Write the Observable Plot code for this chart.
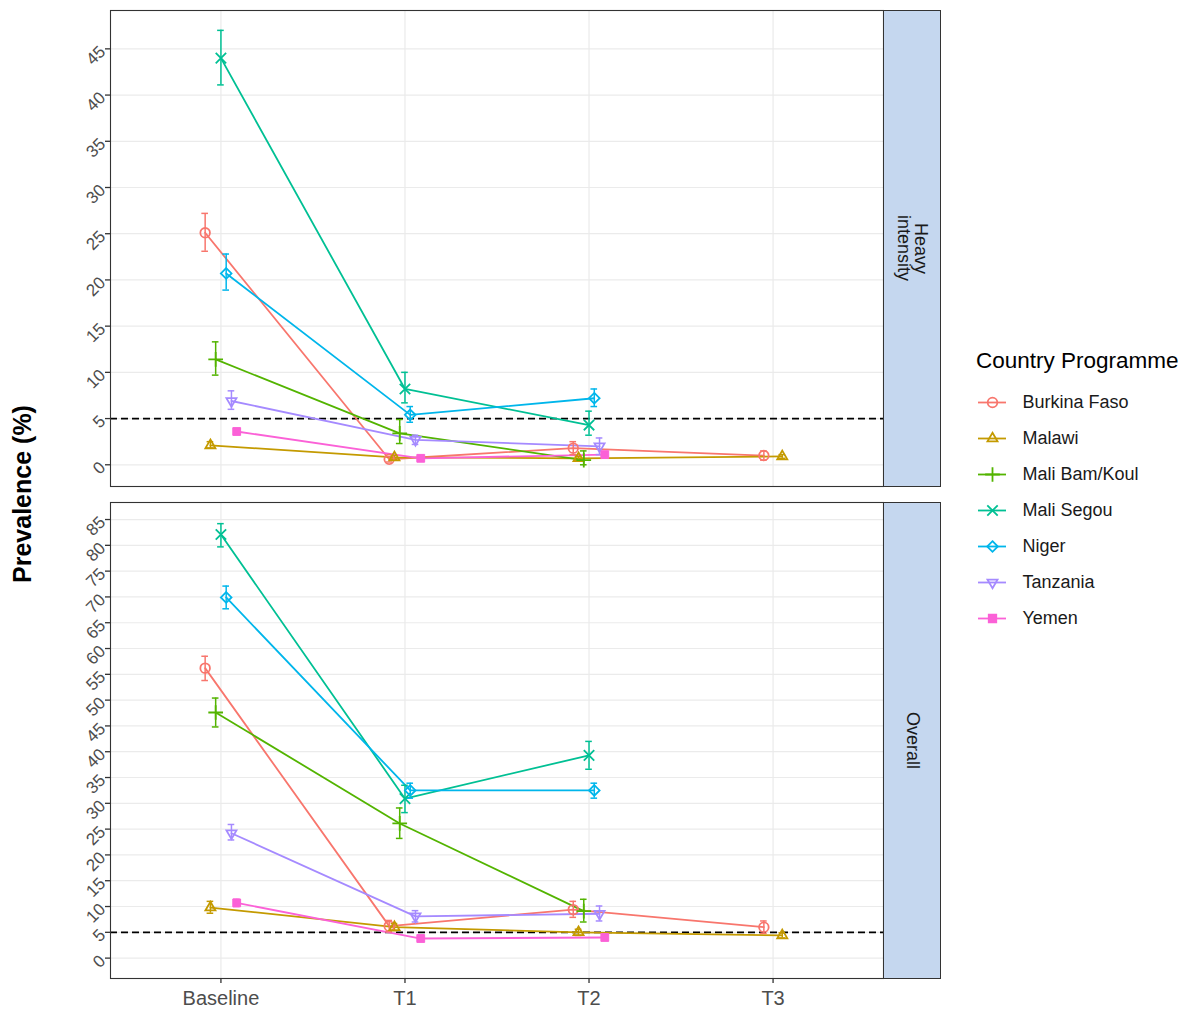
<!DOCTYPE html>
<html>
<head>
<meta charset="utf-8">
<script src="https://cdn.jsdelivr.net/npm/d3@7"></script>
<script src="https://cdn.jsdelivr.net/npm/@observablehq/plot@0.6"></script>
<style>
  body { margin: 0; background: #fff; font-family: "Liberation Sans", Arial, sans-serif; }
  #wrap { position: relative; width: 1191px; height: 1012px; overflow: hidden; background: #fff; }
  .strip { position: absolute; background: #C5D7EF; border: 1px solid #333333; box-sizing: border-box;
           display: flex; align-items: center; justify-content: center; }
  .strip span { writing-mode: vertical-rl; font-size: 18px; color: #1A1A1A; text-align: center; line-height: 17px; }
</style>
</head>
<body>
<div id="wrap"></div>
<script>
// ---------------- data ----------------
const countries = ["Burkina Faso", "Malawi", "Mali Bam/Koul", "Mali Segou", "Niger", "Tanzania", "Yemen"];
const colors = ["#F8766D", "#C49A00", "#53B400", "#00C094", "#00B6EB", "#A58AFF", "#FB61D7"];
const timepoints = ["Baseline", "T1", "T2", "T3"];
const panels = ["Heavy\nintensity", "Overall"];

// Heavy intensity prevalence (%), rows = countries, columns = timepoints
const heavyEst = [
  [25.1, 0.6, 1.8, 1.0],
  [2.1, 0.8, 0.7, 0.9],
  [11.4, 3.4, 0.5, null],
  [44.0, 8.2, 4.3, null],
  [20.7, 5.4, 7.2, null],
  [6.9, 2.7, 2.0, null],
  [3.6, 0.7, 1.1, null]
];
const heavyLow = [
  [23.1, 0.3, 1.1, 0.5],
  [1.8, 0.6, 0.5, 0.7],
  [9.7, 2.3, 0.0, null],
  [41.1, 6.7, 3.2, null],
  [18.9, 4.6, 6.3, null],
  [6.0, 2.2, 1.1, null],
  [3.3, 0.5, 0.8, null]
];
const heavyHigh = [
  [27.2, 0.9, 2.5, 1.5],
  [2.5, 1.0, 0.9, 1.1],
  [13.3, 4.9, 1.5, null],
  [47.0, 10.0, 5.8, null],
  [22.8, 6.3, 8.2, null],
  [8.0, 3.2, 2.9, null],
  [3.9, 0.9, 1.4, null]
];

// Overall prevalence (%)
const overallEst = [
  [56.2, 6.2, 9.4, 6.0],
  [9.8, 6.0, 5.0, 4.4],
  [47.6, 26.1, 9.1, null],
  [82.1, 30.9, 39.3, null],
  [69.9, 32.5, 32.5, null],
  [24.2, 8.1, 8.6, null],
  [10.7, 3.8, 4.0, null]
];
const overallLow = [
  [53.8, 5.1, 7.9, 4.8],
  [8.7, 5.3, 4.4, 3.9],
  [44.8, 23.2, 7.0, null],
  [79.7, 28.2, 36.6, null],
  [67.7, 31.0, 31.0, null],
  [22.9, 7.0, 7.2, null],
  [10.0, 3.4, 3.6, null]
];
const overallHigh = [
  [58.5, 7.3, 11.0, 7.2],
  [11.0, 6.7, 5.6, 4.9],
  [50.4, 29.1, 11.4, null],
  [84.2, 33.5, 42.0, null],
  [72.1, 33.9, 33.9, null],
  [25.9, 9.2, 10.1, null],
  [11.4, 4.2, 4.4, null]
];

const heavyTicks = [0, 5, 10, 15, 20, 25, 30, 35, 40, 45];
const overallTicks = [0, 5, 10, 15, 20, 25, 30, 35, 40, 45, 50, 55, 60, 65, 70, 75, 80, 85];
const threshold = [5];

(function () {
// ---------------- helpers ----------------
const FONT = '"Liberation Sans", Arial, sans-serif';
const dodge = 0.2;
const capHalf = 0.018;

function rows(est, low, high) {
  const out = [];
  timepoints.forEach((t, j) => {
    const present = countries.map((c, i) => i).filter(i => est[i][j] != null);
    const n = present.length;
    present.forEach((i, k) => {
      out.push({country: countries[i], time: t, xi: j,
        x: j - dodge / 2 + (k + 0.5) * dodge / n,
        y: est[i][j], lo: low[i][j], hi: high[i][j]});
    });
  });
  out.sort((a, b) => countries.indexOf(a.country) - countries.indexOf(b.country) || a.xi - b.xi);
  return out;
}

const triangleDown = {
  draw(context, size) {
    const s = Math.sqrt(size) * 0.6824;
    const t = s / 2;
    const u = (s * Math.sqrt(3)) / 2;
    context.moveTo(0, s);
    context.lineTo(u, -t);
    context.lineTo(-u, -t);
    context.closePath();
  }
};
const symbolRange = ["circle", "triangle2", "plus", "times", "diamond2", triangleDown, "square"];

function panel(data, ticks, domain, opts) {
  const open = data.filter(d => d.country !== "Yemen");
  const filled = data.filter(d => d.country === "Yemen");
  const marks = [
    Plot.gridY(ticks, {stroke: "#EBEBEB", strokeOpacity: 1, strokeWidth: 1.2}),
    Plot.gridX([0, 1, 2, 3], {stroke: "#EBEBEB", strokeOpacity: 1, strokeWidth: 1.2}),
    Plot.ruleY(threshold, {stroke: "black", strokeWidth: 1.8, strokeDasharray: "7,4"}),
    Plot.line(data, {x: "x", y: "y", z: "country", stroke: "country", strokeWidth: 1.8}),
    Plot.ruleX(data, {x: "x", y1: "lo", y2: "hi", stroke: "country", strokeWidth: 1.5}),
    Plot.ruleY(data, {y: "lo", x1: d => d.x - capHalf, x2: d => d.x + capHalf, stroke: "country", strokeWidth: 1.5}),
    Plot.ruleY(data, {y: "hi", x1: d => d.x - capHalf, x2: d => d.x + capHalf, stroke: "country", strokeWidth: 1.5}),
    Plot.dot(open, {x: "x", y: "y", symbol: "country", stroke: "country", fill: "none", r: 4.8, strokeWidth: 1.8}),
    Plot.dot(filled, {x: "x", y: "y", symbol: "country", fill: "country", stroke: "country", r: 4.4, strokeWidth: 1}),
    Plot.frame({stroke: "#333333", strokeWidth: 1.1}),
    Plot.axisY(ticks, {tickRotate: -45, tickSize: 5, tickPadding: 3, fontSize: 17, fill: "#4D4D4D", stroke: "#333333", strokeWidth: 1.3, label: null})
  ];
  if (opts.xAxis) {
    marks.push(Plot.axisX([0, 1, 2, 3], {tickFormat: i => timepoints[i], tickSize: 5, tickPadding: 7, fontSize: 20, fill: "#4D4D4D", stroke: "#333333", strokeWidth: 1.3, label: null}));
  }
  return Plot.plot({
    width: 945,
    height: opts.height,
    marginLeft: 110,
    marginRight: 62,
    marginTop: 10,
    marginBottom: opts.marginBottom,
    style: {fontFamily: FONT, background: "transparent", overflow: "visible"},
    x: {domain: [-0.6, 3.6], axis: null},
    y: {domain: domain, axis: null},
    color: {domain: countries, range: colors},
    symbol: {domain: countries, range: symbolRange},
    marks
  });
}

const wrap = document.getElementById("wrap");

const topChart = panel(rows(heavyEst, heavyLow, heavyHigh), heavyTicks, [-2.35, 49.15], {height: 496, marginBottom: 10});
topChart.style.position = "absolute"; topChart.style.left = "0px"; topChart.style.top = "0px";
wrap.appendChild(topChart);

const bottomChart = panel(rows(overallEst, overallLow, overallHigh), overallTicks, [-3.95, 88.3], {height: 520, marginBottom: 34, xAxis: true});
bottomChart.style.position = "absolute"; bottomChart.style.left = "0px"; bottomChart.style.top = "492px";
wrap.appendChild(bottomChart);

// facet strips
[[10, panels[0]], [502, panels[1]]].forEach(([y, label]) => {
  const s = document.createElement("div");
  s.className = "strip";
  s.style.left = "883px"; s.style.top = y + "px"; s.style.width = "58px"; s.style.height = "477px";
  const sp = document.createElement("span");
  sp.innerHTML = label.replace("\n", "<br>");
  s.appendChild(sp);
  wrap.appendChild(s);
});

// y title
const yt = document.createElement("div");
yt.textContent = "Prevalence (%)";
yt.style.cssText = "position:absolute;left:22px;top:494px;transform:translate(-50%,-50%) rotate(-90deg);font-weight:bold;font-size:25px;color:#000;white-space:nowrap;";
wrap.appendChild(yt);

// legend title
const lt = document.createElement("div");
lt.textContent = "Country Programme";
lt.style.cssText = "position:absolute;left:976px;top:348px;font-size:22.5px;color:#000;white-space:nowrap;";
wrap.appendChild(lt);

// legend keys
const legendData = countries.map(c => ({country: c}));
const legend = Plot.plot({
  width: 215,
  height: 252,
  marginTop: 0, marginBottom: 0, marginLeft: 0, marginRight: 0,
  style: {fontFamily: FONT, background: "transparent", overflow: "visible"},
  x: {type: "identity", axis: null},
  y: {type: "band", domain: countries, range: [0, 252], padding: 0, axis: null},
  color: {domain: countries, range: colors},
  symbol: {domain: countries, range: symbolRange},
  marks: [
    Plot.ruleY(legendData, {y: "country", x1: 2, x2: 30, stroke: "country", strokeWidth: 1.8}),
    Plot.dot(legendData.filter(d => d.country !== "Yemen"), {x: 16, y: "country", symbol: "country", stroke: "country", fill: "none", r: 4.8, strokeWidth: 1.8}),
    Plot.dot(legendData.filter(d => d.country === "Yemen"), {x: 16, y: "country", symbol: "country", fill: "country", stroke: "country", r: 4.4}),
    Plot.text(legendData, {x: 46, y: "country", text: "country", textAnchor: "start", fontSize: 18, fill: "#1A1A1A"})
  ]
});
legend.style.position = "absolute"; legend.style.left = "976px"; legend.style.top = "384px";
wrap.appendChild(legend);
})();
</script>
</body>
</html>
